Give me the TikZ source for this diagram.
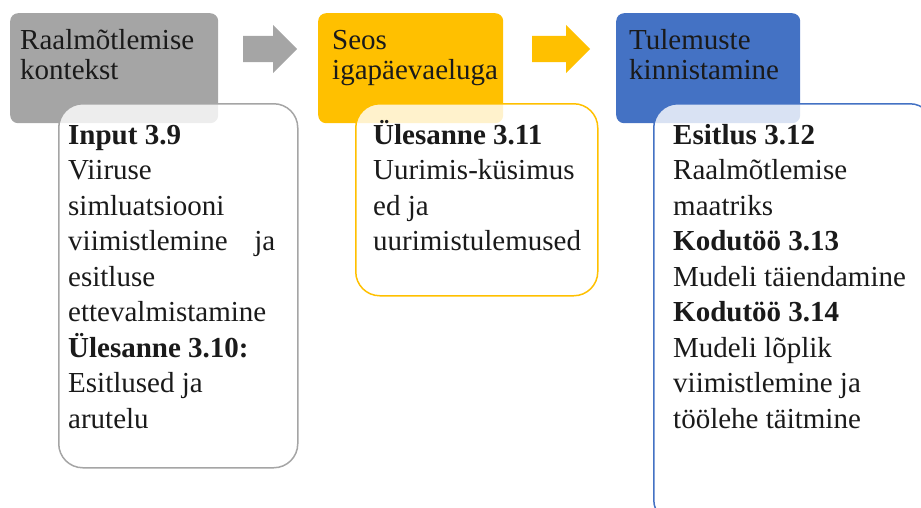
\documentclass[tikz,border=0pt]{standalone}
\usepackage{fontspec}
\setmainfont{Liberation Serif}
\usetikzlibrary{shapes.arrows}
\definecolor{ctxgray}{HTML}{A5A5A5}
\definecolor{linkgold}{HTML}{FFC000}
\definecolor{fixblue}{HTML}{4472C4}
\definecolor{inktext}{HTML}{1A1A1A}
\begin{document}
\begin{tikzpicture}[x=1pt,y=-1pt,
  header/.style={fill=#1, rounded corners=8pt, minimum height=110pt, inner sep=0pt, anchor=north west},
  panel/.style={draw=#1, line width=1.5pt, fill=white, fill opacity=0.8, rounded corners=24pt, inner sep=0pt, anchor=north west},
  headtext/.style={anchor=north west, inner sep=0pt, align=left, text=inktext, font=\fontsize{29}{30}\selectfont},
  bodytext/.style={anchor=north west, inner sep=0pt, align=left, text=inktext, font=\fontsize{29}{35.5}\selectfont},
  blockarrow/.style={single arrow, fill=#1, text height=26pt, text depth=0pt, text width=0pt,
    single arrow head extend=11pt, inner sep=0pt, anchor=tail}
]
\useasboundingbox (0,0) rectangle (921,507);
\clip (0,0) rectangle (921,507);

% stage headers
\node[header=ctxgray, minimum width=208pt] (h1) at (10,13) {};
\node[header=linkgold, minimum width=185pt] (h2) at (318,13) {};
\node[header=fixblue, minimum width=184pt] (h3) at (616,13) {};

\node[headtext] (h1t) at (20,28) {\strut Raalmõtlemise\\kontekst};
\node[headtext] (h2t) at (332,28) {\strut Seos\\igapäevaeluga};
\node[headtext] (h3t) at (629,28) {\strut Tulemuste\\kinnistamine};

% arrows between the stages
\node[blockarrow=ctxgray, minimum height=54pt] (a1) at (243,49) {};
\node[blockarrow=linkgold, minimum height=58pt] (a2) at (532,49) {};

% detail panels, partly over the headers
\node[panel=ctxgray, minimum width=239pt, minimum height=364pt] (p1) at (58,103) {};
\node[panel=linkgold, minimum width=242pt, minimum height=192pt] (p2) at (355,103) {};
\node[panel=fixblue, minimum width=280pt, minimum height=420pt] (p3) at (653,103) {};

\node[bodytext] (p1t) at (68,119) {\strut\textbf{Input 3.9}\\
  Viiruse\\
  simluatsiooni\\
  \makebox[207pt][s]{viimistlemine ja}\\
  esitluse\\
  ettevalmistamine\\
  \textbf{Ülesanne 3.10:}\\
  Esitlused ja\\
  arutelu};

\node[bodytext] (p2t) at (373,119) {\strut\textbf{Ülesanne 3.11}\\
  Uurimis-küsimus\\
  ed ja\\
  uurimistulemused};

\node[bodytext] (p3t) at (673,119) {\strut\textbf{Esitlus 3.12}\\
  Raalmõtlemise\\
  maatriks\\
  \textbf{Kodutöö 3.13}\\
  Mudeli täiendamine\\
  \textbf{Kodutöö 3.14}\\
  Mudeli lõplik\\
  viimistlemine ja\\
  töölehe täitmine};
\end{tikzpicture}
\end{document}
